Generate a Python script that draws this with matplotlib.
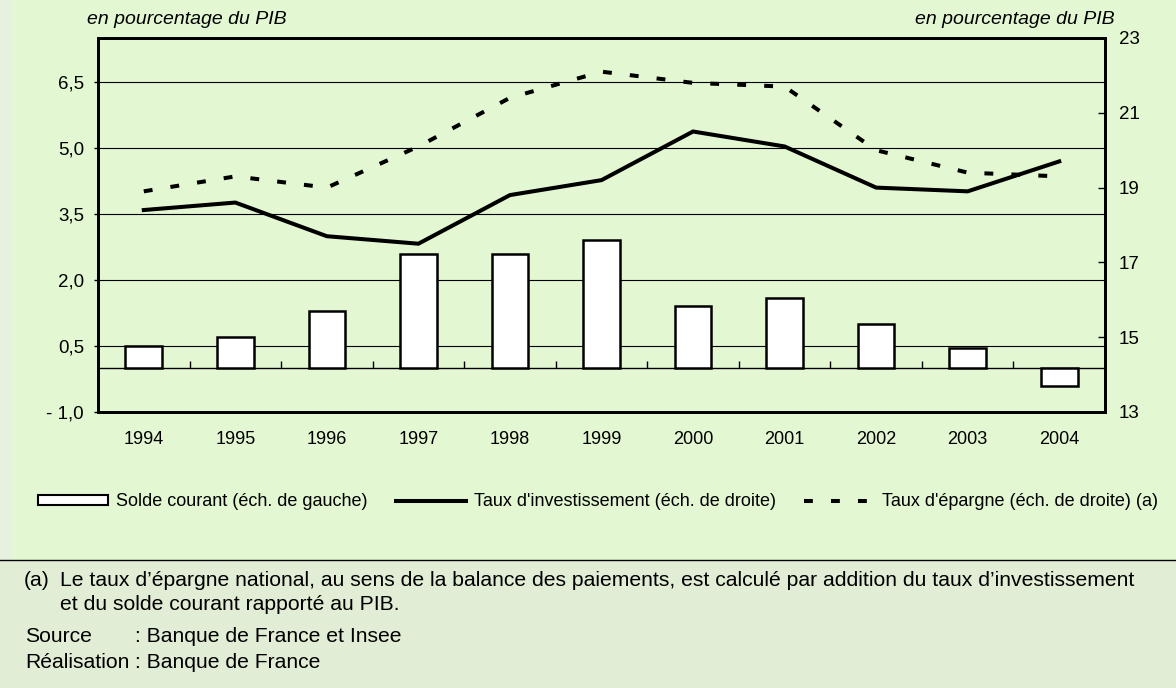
import matplotlib
matplotlib.use('Agg')
import matplotlib.pyplot as plt
from matplotlib.patches import Rectangle, Patch
from matplotlib.lines import Line2D
from matplotlib.ticker import FixedLocator, NullLocator

plt.rcParams['font.family'] = ['Liberation Sans', 'DejaVu Sans']

# données
annees = ['1994', '1995', '1996', '1997', '1998', '1999',
          '2000', '2001', '2002', '2003', '2004']
solde_courant = [0.5, 0.7, 1.3, 2.6, 2.6, 2.9, 1.4, 1.6, 1.0, 0.45, -0.4]
taux_investissement = [18.4, 18.6, 17.7, 17.5, 18.8, 19.2, 20.5, 20.1, 19.0, 18.9, 19.7]
taux_epargne = [18.9, 19.3, 19.0, 20.1, 21.4, 22.1, 21.8, 21.7, 20.0, 19.4, 19.3]

ticks_gauche = [-1.0, 0.5, 2.0, 3.5, 5.0, 6.5]
labels_gauche = ['- 1,0', '0,5', '2,0', '3,5', '5,0', '6,5']
ticks_droite = [13, 15, 17, 19, 21, 23]

W, H = 1176, 688
fig = plt.figure(figsize=(W / 100, H / 100), dpi=100)
fig.patch.set_facecolor('#E1EDD4')

# fond vert clair de la partie haute + bande à gauche
fig.patches.append(Rectangle((0, 1 - 560 / H), 1, 560 / H, transform=fig.transFigure,
                             facecolor='#E3F7D2', edgecolor='none', zorder=-10))
fig.patches.append(Rectangle((0, 1 - 560 / H), 12 / W, 560 / H, transform=fig.transFigure,
                             facecolor='#E7F1DF', edgecolor='none', zorder=-10))
fig.add_artist(Line2D([0, 1], [1 - 560 / H, 1 - 560 / H], transform=fig.transFigure,
                      color='black', lw=1))

ax = fig.add_axes([98 / W, (H - 412) / H, 1007 / W, 374 / H])
ax.set_facecolor('none')
x = list(range(len(annees)))

ax.bar(x, solde_courant, width=0.4, color='white', edgecolor='black', lw=1.8, zorder=3)
ax.set_axisbelow(True)
ax.yaxis.grid(True, color='black', lw=0.8)

ax.set_xlim(-0.5, len(annees) - 0.5)
ax.set_ylim(-1.0, 7.5)
ax.set_yticks(ticks_gauche, labels_gauche)
ax.set_xticks(x, annees)
ax.tick_params(axis='x', length=0, pad=14, labelsize=13)
ax.tick_params(axis='y', direction='out', length=3, width=1, pad=7, labelsize=13.5)

# ligne du zéro avec petites graduations entre les années
sec = ax.secondary_xaxis(1.0 / 8.5)
sec.xaxis.set_major_locator(NullLocator())
sec.xaxis.set_minor_locator(FixedLocator([i + 0.5 for i in x[:-1]]))
sec.tick_params(which='minor', direction='in', length=5, width=1)
for s in sec.spines.values():
    s.set_linewidth(1)

ax2 = ax.twinx()
ax2.plot(x, taux_investissement, color='black', lw=2.9, solid_joinstyle='miter', zorder=4)
ax2.plot(x, taux_epargne, color='black', lw=2.9, linestyle=(0, (2.2, 4.5)), zorder=4)
ax2.set_ylim(13, 23)
ax2.set_yticks(ticks_droite)
ax2.tick_params(axis='y', direction='in', length=5, width=1, pad=10, labelsize=13.5)

for a in (ax, ax2):
    for s in a.spines.values():
        s.set_linewidth(2)

fig.text(87 / W, 1 - 20 / H, 'en pourcentage du PIB', style='italic', fontsize=14,
         ha='left', va='center')
fig.text(1115 / W, 1 - 20 / H, 'en pourcentage du PIB', style='italic', fontsize=14,
         ha='right', va='center')

handles = [
    Patch(facecolor='white', edgecolor='black', lw=1.5),
    Line2D([], [], color='black', lw=2.9),
    Line2D([], [], color='black', lw=2.9, linestyle=(0, (2.2, 4.5))),
]
labels = ['Solde courant (éch. de gauche)',
          "Taux d'investissement (éch. de droite)",
          "Taux d'épargne (éch. de droite) (a)"]
fig.legend(handles, labels, loc='center', bbox_to_anchor=(598 / W, 1 - 502 / H),
           ncol=3, frameon=False, fontsize=13, handlelength=3.9, handleheight=0.4,
           handletextpad=0.4, columnspacing=1.6)

fs = 15.2
fig.text(24 / W, 1 - 581 / H, '(a)', fontsize=fs, va='center')
fig.text(60 / W, 1 - 581 / H,
         'Le taux d’épargne national, au sens de la balance des paiements, '
         'est calculé par addition du taux d’investissement', fontsize=fs, va='center')
fig.text(60 / W, 1 - 604 / H, 'et du solde courant rapporté au PIB.', fontsize=fs, va='center')
fig.text(25 / W, 1 - 637 / H, 'Source', fontsize=fs, va='center')
fig.text(135 / W, 1 - 637 / H, ': Banque de France et Insee', fontsize=fs, va='center')
fig.text(25 / W, 1 - 662 / H, 'Réalisation', fontsize=fs, va='center')
fig.text(135 / W, 1 - 662 / H, ': Banque de France', fontsize=fs, va='center')

fig.savefig('out.png', dpi=100, facecolor=fig.get_facecolor())
